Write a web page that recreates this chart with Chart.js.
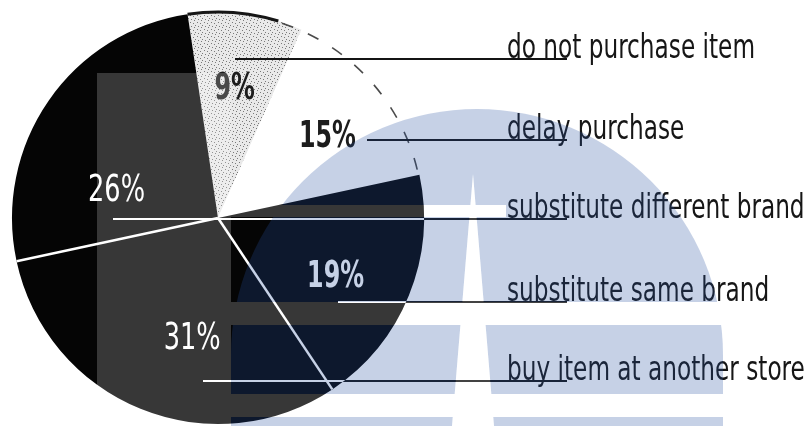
<!DOCTYPE html>
<html>
<head>
<meta charset="utf-8">
<script src="https://cdn.jsdelivr.net/npm/chart.js@4.4.0/dist/chart.umd.min.js"></script>
<style>
  html, body { margin: 0; padding: 0; background: #fff; }
  #wrap { width: 806px; height: 426px; overflow: hidden; }
</style>
</head>
<body>
<div id="wrap"><canvas id="pie" width="806" height="426"></canvas></div>
<script>
// slices, clockwise from just left of twelve o'clock
const categories = ["do not purchase item", "delay purchase", "substitute same brand", "buy item at another store", "substitute different brand"];
const shares = [9, 15, 19, 31, 26];
// order of the captions down the right-hand side (index into categories)
const captionOrder = [0, 1, 4, 2, 3];

// layout of captions and leader lines, one entry per caption row
const rowY = [59, 140, 219, 302, 381];
const leaderStartX = [235, 367, 113, 338, 203];
const leaderEndX = 567;
const captionX = 507;
const captionWidth = 248;     // width of the first caption; the others share its squeeze
const pctWidth = 57;          // width of "15%"
// where each percentage sits inside its slice: fraction of sweep, fraction of radius
const pctAngleFrac = [0.49, 0.55, 0.57, 0.41, 0.29];
const pctRadiusFrac = [0.63, 0.66, 0.64, 0.60, 0.51];
const pctColor = ["#1c1c1c", "#1c1c1c", "#ffffff", "#ffffff", "#ffffff"];
const pctWeight = ["bold", "bold", "bold", "normal", "normal"];
const darkSlices = [2, 3, 4];
// white rules drawn along the start edge of these slices
const separated = [3, 4];

const canvas = document.getElementById("pie");
const ctx = canvas.getContext("2d");

function speckle() {
  const c = document.createElement("canvas");
  c.width = 7; c.height = 7;
  const g = c.getContext("2d");
  g.fillStyle = "#e9e9e9";
  g.fillRect(0, 0, 7, 7);
  g.fillStyle = "#7a7a7a";
  [[1, 1], [4, 2], [2, 5], [6, 4], [5, 6]].forEach(([x, y]) => g.fillRect(x, y, 1, 1));
  return ctx.createPattern(c, "repeat");
}

const FONT = '"DejaVu Sans Condensed", "DejaVu Sans", sans-serif';

function slicePath(g, arc) {
  g.moveTo(arc.x, arc.y);
  g.arc(arc.x, arc.y, arc.outerRadius, arc.startAngle, arc.endAngle);
  g.closePath();
}

// squeezed text: sx is the horizontal scale
function squeezed(g, text, x, y, sx) {
  g.save();
  g.translate(x, y);
  g.scale(sx, 1);
  g.fillText(text, 0, 0);
  g.restore();
}

const annotate = {
  id: "annotate",
  afterDatasetsDraw(chart) {
    const g = chart.ctx;
    const arcs = chart.getDatasetMeta(0).data;
    const cx = arcs[0].x, cy = arcs[0].y;
    g.save();

    // white rules between the dark slices
    g.strokeStyle = "#ffffff";
    g.lineWidth = 2.5;
    separated.forEach(i => {
      const a = arcs[i];
      g.beginPath();
      g.moveTo(cx, cy);
      g.lineTo(cx + a.outerRadius * Math.cos(a.startAngle), cy + a.outerRadius * Math.sin(a.startAngle));
      g.stroke();
    });

    // outline over the top of the speckled slice
    let a = arcs[0];
    g.strokeStyle = "#161616";
    g.lineWidth = 3;
    g.beginPath();
    g.arc(cx, cy, a.outerRadius, a.startAngle, a.endAngle - 0.12);
    g.stroke();

    // broken rim round the white slice
    a = arcs[1];
    g.strokeStyle = "#4a4a4a";
    g.lineWidth = 1.6;
    g.setLineDash([12, 16]);
    g.beginPath();
    g.arc(cx, cy, a.outerRadius - 1, a.startAngle - 0.1, a.endAngle);
    g.stroke();
    g.setLineDash([]);

    // leader lines, black outside the dark slices...
    const leaders = () => captionOrder.forEach((idx, row) => {
      g.beginPath();
      g.moveTo(leaderStartX[row], rowY[row]);
      g.lineTo(leaderEndX, rowY[row]);
      g.stroke();
    });
    g.lineWidth = 2.2;
    g.strokeStyle = "#141414";
    leaders();
    // ...and white where they cross them
    g.save();
    g.beginPath();
    darkSlices.forEach(i => slicePath(g, arcs[i]));
    g.clip();
    g.strokeStyle = "#ffffff";
    leaders();
    g.restore();

    // captions
    g.fillStyle = "#161616";
    g.font = "33px " + FONT;
    g.textBaseline = "alphabetic";
    g.textAlign = "left";
    const sx = captionWidth / g.measureText(categories[captionOrder[0]]).width;
    captionOrder.forEach((idx, row) => {
      squeezed(g, categories[idx], captionX, rowY[row] - 1, sx);
    });

    // percentages
    g.textAlign = "center";
    g.textBaseline = "middle";
    arcs.forEach((arc, i) => {
      g.font = pctWeight[i] + " 38px " + FONT;
      const px = pctWidth / g.measureText("15%").width;
      const ang = arc.startAngle + pctAngleFrac[i] * (arc.endAngle - arc.startAngle);
      const r = pctRadiusFrac[i] * arc.outerRadius;
      g.fillStyle = pctColor[i];
      squeezed(g, shares[i] + "%", cx + r * Math.cos(ang), cy + r * Math.sin(ang), px);
    });
    g.restore();
  },
  afterDraw(chart) {
    // faint seal printed over the page
    const g = chart.ctx;
    const W = chart.width, H = chart.height;
    const off = document.createElement("canvas");
    off.width = W; off.height = H;
    const o = off.getContext("2d");
    o.fillStyle = "rgb(38, 80, 160)";
    o.beginPath();
    o.arc(477, 355, 246, 0, Math.PI * 2);
    o.fill();
    o.fillRect(231, 355, 492, H - 355);
    o.clearRect(0, 0, 231, H);
    o.clearRect(723, 0, W - 723, H);

    const light = new Path2D();
    light.rect(97, 73, 134, H - 73);
    light.rect(231, 205, 275, 12);
    light.rect(231, 302, 492, 23);
    light.rect(231, 394, 492, 23);
    light.moveTo(473, 174);
    light.lineTo(494, H);
    light.lineTo(452, H);
    light.closePath();

    o.globalCompositeOperation = "destination-out";
    o.fillStyle = "#000";
    o.fill(light);

    g.save();
    g.globalAlpha = 0.26;
    g.drawImage(off, 0, 0);
    g.globalAlpha = 1;
    g.fillStyle = "rgba(255, 255, 255, 0.2)";
    g.fill(light);
    g.restore();
  }
};

new Chart(ctx, {
  type: "pie",
  data: {
    labels: categories,
    datasets: [{
      data: shares,
      backgroundColor: [speckle(), "#ffffff", "#050505", "#050505", "#050505"],
      borderWidth: 0
    }]
  },
  options: {
    responsive: false,
    animation: false,
    rotation: -8.5,
    layout: { padding: { left: 12, top: 12, right: 382, bottom: 2 } },
    plugins: {
      legend: { display: false },
      tooltip: { enabled: false }
    }
  },
  plugins: [annotate]
});
</script>
</body>
</html>
